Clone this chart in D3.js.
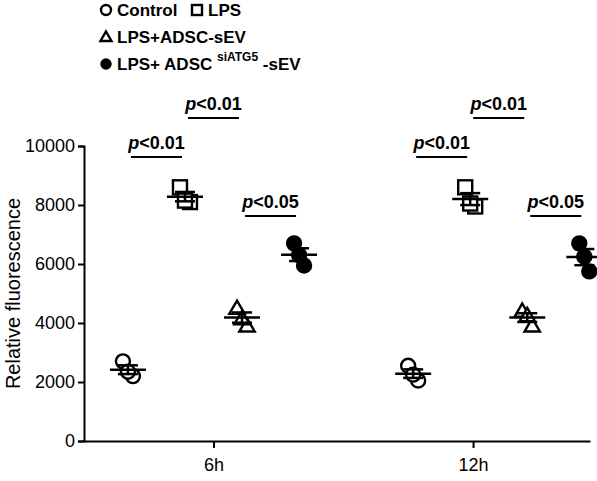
<!DOCTYPE html>
<html><head><meta charset="utf-8">
<script src="https://cdn.jsdelivr.net/npm/d3@7"></script>
<style>body{margin:0;background:#fff}text{font-family:"Liberation Sans",Arial,sans-serif}</style>
</head><body><div id="vis"></div>
<script>
let times = ['6h', '12h'];
let groups = ['Control', 'LPS', 'LPS+ADSC-sEV', 'siATG5'];
let shapes = ['circle', 'square', 'triangle', 'dot'];
let values = {
    '6h': [[2700, 2200, 2350], [8600, 8100, 8150], [4500, 3900, 4150], [6700, 5950, 6300]],
    '12h': [[2550, 2050, 2250], [8600, 7950, 8050], [4400, 3900, 4250], [6700, 5750, 6250]]
};
let jitter = [-5, 5, 0];
let yTicks = [0, 2000, 4000, 6000, 8000, 10000];
// [time, from group, to group, bar level, label]
let brackets = [
    ['6h', 0, 1, 9630, 'p<0.01'], ['6h', 1, 2, 10950, 'p<0.01'], ['6h', 2, 3, 7630, 'p<0.05'],
    ['12h', 0, 1, 9630, 'p<0.01'], ['12h', 1, 2, 10950, 'p<0.01'], ['12h', 2, 3, 7630, 'p<0.05']
];

let width = 597, height = 481;
let margin = {left: 84, top: 146, bottom: 40};

let svg = d3.select('#vis').append('svg').attr('width', width).attr('height', height);

let y = d3.scaleLinear().domain([0, 10000]).range([height - margin.bottom, margin.top]);
// slot index: time block of 5 slots, group inside it
let x = d3.scaleLinear().domain([-0.77, 8.1]).range([margin.left, 590]);
let slot = (t, g) => times.indexOf(t) * 5 + g;
let px = (t, g) => x(slot(t, g));
let tickPos = {'6h': 1.5, '12h': 6.05};

svg.append('g').attr('transform', 'translate(' + margin.left + ',0)')
    .call(d3.axisLeft(y).tickValues(yTicks).tickSize(6).tickFormat(d3.format('d')))
    .call(g => g.selectAll('text').style('font-size', '18px').attr('fill', '#000'))
    .call(g => g.selectAll('line,path').attr('stroke', '#000').attr('stroke-width', 2));

svg.append('g').attr('transform', 'translate(0,' + y(0) + ')')
    .call(d3.axisBottom(x).tickValues(times.map(t => tickPos[t])).tickFormat((d, i) => times[i]).tickSize(7).tickSizeOuter(0))
    .call(g => g.selectAll('text').style('font-size', '18px').attr('fill', '#000').attr('dy', '1.1em'))
    .call(g => g.selectAll('line,path').attr('stroke', '#000').attr('stroke-width', 2));

svg.append('text').attr('transform', 'translate(20,' + y(5000) + ') rotate(-90)')
    .attr('text-anchor', 'middle').style('font-size', '20px').text('Relative fluorescence');

function drawShape(g, shape, cx, cy, r) {
    if (shape === 'circle' || shape === 'dot') {
        g.append('circle').attr('cx', cx).attr('cy', cy).attr('r', r)
            .attr('fill', shape === 'dot' ? '#000' : '#fff').attr('stroke', '#000').attr('stroke-width', 2.4);
    } else if (shape === 'square') {
        g.append('rect').attr('x', cx - r).attr('y', cy - r).attr('width', 2 * r).attr('height', 2 * r)
            .attr('fill', '#fff').attr('stroke', '#000').attr('stroke-width', 2.4);
    } else {
        g.append('path').attr('d', 'M' + cx + ',' + (cy - r * 1.1) + 'L' + (cx + r * 1.1) + ',' + (cy + r * 0.8) + 'L' + (cx - r * 1.1) + ',' + (cy + r * 0.8) + 'Z')
            .attr('fill', '#fff').attr('stroke', '#000').attr('stroke-width', 2.4);
    }
}

let marks = svg.append('g');
times.forEach(t => {
    values[t].forEach((vals, gi) => {
        let cx = px(t, gi);
        vals.forEach((v, i) => drawShape(marks, shapes[gi], cx + jitter[i], y(v), 7));
        let m = d3.mean(vals), se = d3.deviation(vals) / Math.sqrt(vals.length);
        marks.append('line').attr('x1', cx - 18).attr('x2', cx + 18).attr('y1', y(m)).attr('y2', y(m))
            .attr('stroke', '#000').attr('stroke-width', 2.5);
        marks.append('line').attr('x1', cx).attr('x2', cx).attr('y1', y(m - se)).attr('y2', y(m + se))
            .attr('stroke', '#000').attr('stroke-width', 2.5);
        [m - se, m + se].forEach(e => marks.append('line').attr('x1', cx - 10).attr('x2', cx + 10)
            .attr('y1', y(e)).attr('y2', y(e)).attr('stroke', '#000').attr('stroke-width', 2.5));
    });
});

brackets.forEach(b => {
    let x1 = px(b[0], b[1]) + 3, x2 = px(b[0], b[2]) - 3;
    svg.append('line').attr('x1', x1).attr('x2', x2).attr('y1', y(b[3])).attr('y2', y(b[3]))
        .attr('stroke', '#000').attr('stroke-width', 2);
    let tx = svg.append('text').attr('x', (x1 + x2) / 2).attr('y', y(b[3]) - 8).attr('text-anchor', 'middle')
        .style('font-size', '18px').style('font-weight', 'bold');
    tx.append('tspan').style('font-style', 'italic').text('p');
    tx.append('tspan').text(b[4].slice(1));
});

// legend
let legend = svg.append('g').style('font-size', '17px').style('font-weight', 'bold');
drawShape(legend, 'circle', 106, 10, 5);
legend.append('text').attr('x', 117).attr('y', 16).text('Control');
drawShape(legend, 'square', 197, 10, 5);
legend.append('text').attr('x', 208).attr('y', 16).text('LPS');
drawShape(legend, 'triangle', 106, 37, 5);
legend.append('text').attr('x', 117).attr('y', 43).text('LPS+ADSC-sEV');
drawShape(legend, 'dot', 106, 64, 4.5);
let lt = legend.append('text').attr('x', 117).attr('y', 70).text('LPS+ ADSC ');
lt.append('tspan').attr('dy', -9).style('font-size', '12px').text('siATG5');
lt.append('tspan').attr('dy', 9).text(' -sEV');
</script></body></html>
